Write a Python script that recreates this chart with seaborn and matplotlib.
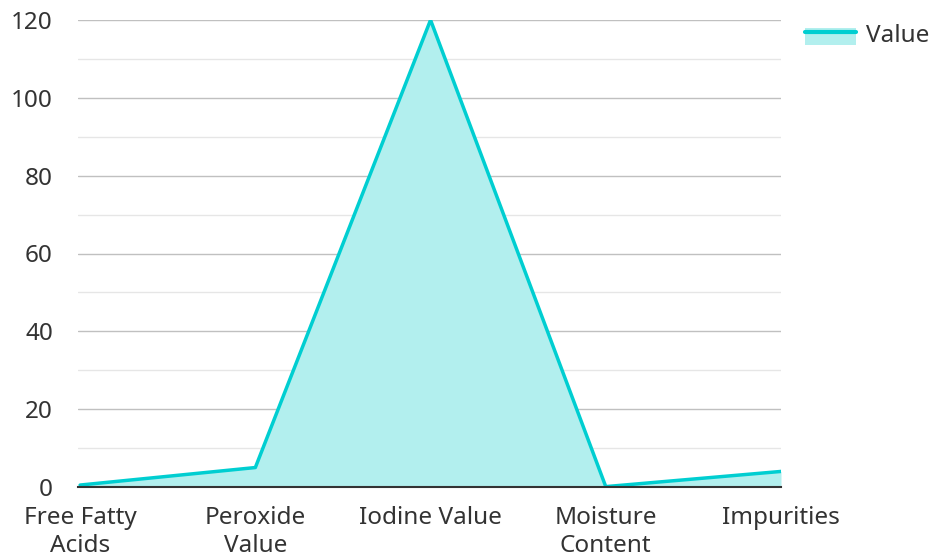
import matplotlib
matplotlib.use("Agg")
import matplotlib.pyplot as plt
import seaborn as sns
import pandas as pd
import numpy as np
from matplotlib.legend_handler import HandlerBase
from matplotlib.patches import Rectangle
from matplotlib.lines import Line2D
from matplotlib.ticker import MultipleLocator

categories = ["Free Fatty\nAcids", "Peroxide\nValue", "Iodine Value", "Moisture\nContent", "Impurities"]
values = [0.5, 5, 120, 0.1, 4]
series_name = "Value"

sns.set_theme(style="white")
plt.rcParams['font.family'] = ['Noto Sans', 'DejaVu Sans']

LINE = "#00CED1"
FILL = "#B2EFEE"
FS = 17.5

df = pd.DataFrame({"x": np.arange(len(categories)), "y": values})

fig = plt.figure(figsize=(9.31, 5.59), dpi=100)
ax = fig.add_axes([78/931, 1 - 487/559, (781-78)/931, (487-20)/559])

ax.fill_between(df["x"], df["y"], 0, color=FILL, linewidth=0, zorder=2)
sns.lineplot(data=df, x="x", y="y", ax=ax, color=LINE, linewidth=2.5, zorder=3)

ax.set_xlim(-0.012, len(categories) - 1)
ax.set_ylim(0, 120)
ax.yaxis.set_major_locator(MultipleLocator(20))
ax.yaxis.set_minor_locator(MultipleLocator(10))
ax.set_xticks(df["x"])
ax.set_xticklabels(categories)
ax.set_xlabel("")
ax.set_ylabel("")

ax.grid(which="major", axis="y", color="#c0c0c0", linewidth=1, zorder=1)
ax.grid(which="minor", axis="y", color="#e6e6e6", linewidth=1, zorder=1)
ax.grid(which="major", axis="x", visible=False)
for s in ["top", "right", "left"]:
    ax.spines[s].set_visible(False)
ax.spines["bottom"].set_color("#333333")
ax.spines["bottom"].set_linewidth(1.5)
ax.spines["bottom"].set_zorder(4)

ax.tick_params(axis="both", which="both", length=0, labelsize=FS, labelcolor="#333333")
ax.tick_params(axis="y", pad=18)
ax.tick_params(axis="x", pad=14)
for lab in ax.get_xticklabels():
    lab.set_linespacing(1.22)
ax.set_axisbelow(True)


class AreaHandler(HandlerBase):
    def create_artists(self, legend, orig_handle, xdescent, ydescent, width, height, fontsize, trans):
        r = Rectangle((-xdescent, -ydescent - height * 0.25), width, height * 1.1, facecolor=FILL, edgecolor="none", transform=trans)
        l = Line2D([-xdescent, -xdescent + width], [-ydescent + height * 0.6] * 2, color=LINE, linewidth=3, transform=trans)
        return [r, l]


handle = Rectangle((0, 0), 1, 1)
leg = fig.legend([handle], [series_name], handler_map={Rectangle: AreaHandler()},
                 loc="upper left", bbox_to_anchor=(798/931, 1 - 17/559), frameon=False,
                 fontsize=FS, handlelength=2.1, handleheight=0.6, handletextpad=0.4,
                 borderaxespad=0, borderpad=0.3)
for t in leg.get_texts():
    t.set_color("#333333")

fig.savefig("out.png", dpi=100)
